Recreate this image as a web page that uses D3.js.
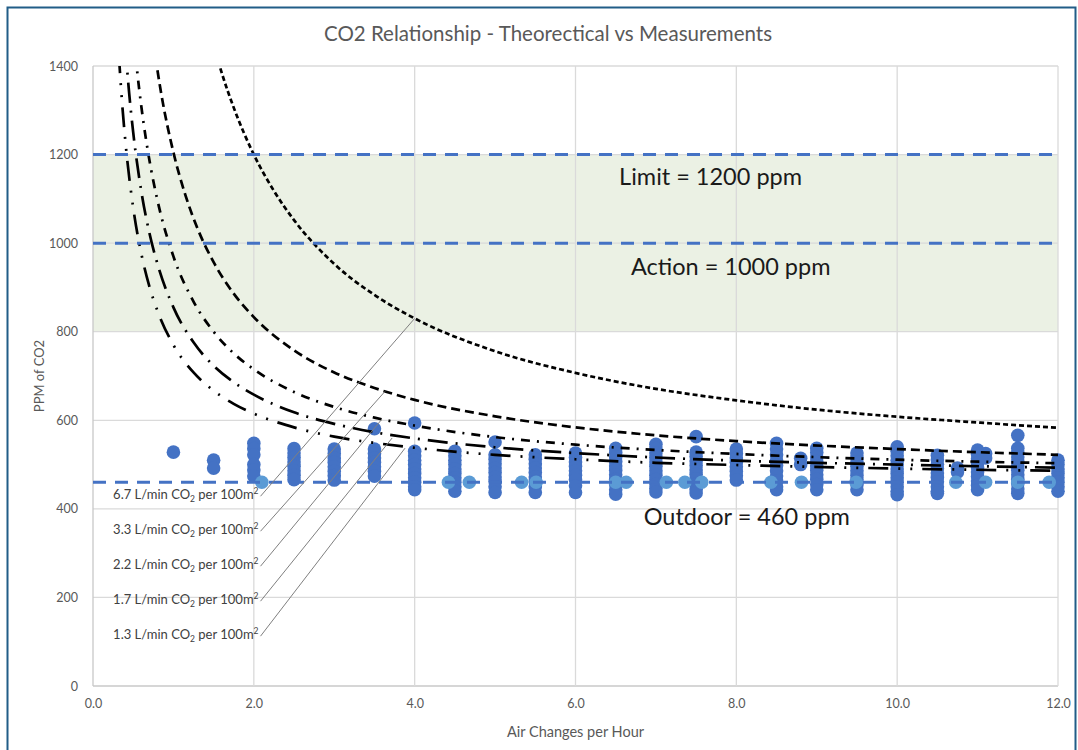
<!DOCTYPE html>
<html><head><meta charset="utf-8">
<script src="https://cdn.jsdelivr.net/npm/d3@7"></script>
<style>body{margin:0;background:#fff;} svg{display:block;}</style>
</head><body>
<svg id="chart" width="1078" height="750"></svg>
<script>
// ---------------- DATA ----------------
const xTicks = [0, 2, 4, 6, 8, 10, 12];
const yTicks = [0, 200, 400, 600, 800, 1000, 1200, 1400];
const actionBand = [800, 1200];
const refLevels = [1200, 1000, 460];
const refLabels = ["Limit = 1200 ppm", "Action = 1000 ppm", "Outdoor = 460 ppm"];

// theoretical curves [ACH, ppm]
const curve67 = [[1.5,1447],[1.6,1385],[1.75,1306],[2,1200],[2.25,1118],[2.5,1052],[3,953],[3.5,883],[4,830],[5,756],[6,707],[7,671],[8,645],[9,624],[10,608],[11,595],[12,583]];
const curve33 = [[0.75,1453],[0.85,1336],[1.0,1205],[1.15,1108],[1.3,1033],[1.5,957],[1.75,886],[2,833],[2.5,758],[3,708],[3.5,673],[4,646],[5,609],[6,584],[7,566],[8,553],[10,535],[12,522]];
const curve22 = [[0.5,1480],[0.55,1387],[0.6,1310],[0.7,1189],[0.8,1098],[1.0,970],[1.25,868],[1.5,800],[1.75,751],[2,715],[2.5,664],[3,630],[3.5,606],[4,588],[5,562],[6,545],[7,533],[8,524],[10,511],[12,503]];
const curve17 = [[0.4,1448],[0.45,1338],[0.5,1250],[0.6,1118],[0.7,1024],[0.8,954],[1.0,855],[1.25,776],[1.5,723],[1.75,686],[2,658],[2.5,618],[3,592],[3.5,573],[4,559],[5,539],[6,526],[7,516],[8,509],[10,500],[12,493]];
const curve13 = [[0.32,1429],[0.36,1321],[0.4,1235],[0.5,1080],[0.6,977],[0.7,903],[0.8,848],[1.0,770],[1.25,708],[1.5,667],[1.75,637],[2,615],[2.5,584],[3,563],[3.5,549],[4,538],[5,522],[6,512],[7,504],[8,499],[10,491],[12,486]];
const curveNames = ["6.7", "3.3", "2.2", "1.7", "1.3"];
const curveDash = ["5,3", "9,5", "9,7,2,7", "20,8,2,8", "20,10,2,10,2,10"];
// label positions (ACH, ppm) and leader line targets on the curves (ACH, ppm)
const labelPos = [[0.25,433],[0.25,354],[0.25,275],[0.25,196],[0.25,117]];
const leaderTargets = [[4.0,830],[3.63,665],[3.59,602],[3.72,560],[3.88,537]];

// measurements: [ACH, [ppm values]]
const measured = [
  [1.0, [528]],
  [1.5, [510, 492]],
  [2.0, [548, 536, 522, 500, 488, 474]],
  [2.5, [536, 526, 516, 506, 496, 486, 476, 466]],
  [3.0, [535, 525, 515, 505, 495, 485, 475, 465]],
  [3.5, [581, 535, 525, 515, 505, 495, 485, 474]],
  [4.0, [594, 530, 520, 510, 500, 490, 480, 470, 460, 450, 443]],
  [4.5, [530, 520, 510, 500, 490, 480, 470, 460, 450, 440]],
  [5.0, [551, 522, 512, 502, 492, 482, 472, 462, 450, 437]],
  [5.5, [522, 512, 502, 492, 482, 472, 462, 450, 437]],
  [6.0, [526, 516, 506, 496, 486, 476, 466, 452, 437]],
  [6.5, [537, 527, 517, 507, 497, 487, 477, 467, 455, 443, 433]],
  [7.0, [546, 536, 526, 516, 506, 496, 486, 476, 466, 456, 446, 438]],
  [7.5, [563, 528, 518, 508, 498, 488, 478, 468, 456, 444, 436]],
  [8.0, [535, 525, 515, 505, 495, 485, 475, 465]],
  [8.5, [548, 535, 522, 510, 498, 486, 474, 462, 450, 443]],
  [8.8, [514, 500]],
  [9.0, [537, 527, 517, 507, 497, 487, 477, 467, 455, 443]],
  [9.5, [526, 516, 506, 496, 486, 476, 466, 455, 443]],
  [10.0, [540, 530, 520, 510, 500, 490, 480, 470, 460, 450, 440, 432]],
  [10.5, [521, 511, 501, 491, 481, 471, 461, 450, 440, 435]],
  [10.75, [492, 483]],
  [11.0, [533, 523, 513, 503, 493, 483, 473, 463, 453, 443]],
  [11.1, [525, 515]],
  [11.5, [566, 537, 527, 517, 507, 497, 487, 477, 467, 457, 445, 435]],
  [12.0, [510, 500, 490, 480, 470, 460, 450, 440]]
];
// outdoor reference measurements (light points)
const outdoorX = [2.1, 4.42, 4.68, 5.33, 5.51, 6.5, 6.63, 7.13, 7.36, 7.57, 8.43, 8.81, 9.49, 10.73, 11.1, 11.5, 11.89];
const outdoorY = [460, 460, 460, 460, 460, 460, 460, 460, 460, 460, 460, 460, 460, 460, 460, 460, 460];

// ---------------- CHART ----------------
const W = 1078, H = 750;
const M = {left: 93, right: 20, top: 66, bottom: 64};
const svg = d3.select("#chart");
const FONT = "Lato, 'Open Sans', sans-serif";

svg.append("rect").attr("x", 0).attr("y", 0).attr("width", W).attr("height", H).attr("fill", "#fff");
svg.append("path").attr("d", `M7.5,${H} L7.5,7.5 L${W-2.5},7.5 L${W-2.5},${H}`)
  .attr("fill", "none").attr("stroke", "#215d87").attr("stroke-width", 2);

const x = d3.scaleLinear().domain([0, 12]).range([M.left, W - M.right]);
const y = d3.scaleLinear().domain([0, 1400]).range([H - M.bottom, M.top]);

svg.append("defs").append("clipPath").attr("id", "plot")
  .append("rect").attr("x", x(0)).attr("y", y(1400)).attr("width", x(12) - x(0)).attr("height", y(0) - y(1400));

// action band
svg.append("rect").attr("x", x(0)).attr("width", x(12) - x(0))
  .attr("y", y(actionBand[1])).attr("height", y(actionBand[0]) - y(actionBand[1]))
  .attr("fill", "#ebf1e4");

// grid
const grid = svg.append("g");
grid.selectAll("line.h").data(yTicks).join("line")
  .attr("x1", x(0)).attr("x2", x(12)).attr("y1", d => y(d)).attr("y2", d => y(d))
  .attr("stroke", d => d === 0 ? "#c8c8c8" : "#dadada").attr("stroke-width", 1.3);
grid.selectAll("line.v").data(xTicks).join("line")
  .attr("y1", y(0)).attr("y2", y(1400)).attr("x1", d => x(d)).attr("x2", d => x(d))
  .attr("stroke", d => d === 0 ? "#c8c8c8" : "#dadada").attr("stroke-width", 1.3);

// axes (labels only)
const yAxis = svg.append("g").attr("transform", `translate(${x(0)},0)`)
  .call(d3.axisLeft(y).tickValues(yTicks).tickSize(0).tickPadding(15).tickFormat(d3.format("d")));
const xAxis = svg.append("g").attr("transform", `translate(0,${y(0)})`)
  .call(d3.axisBottom(x).tickValues(xTicks).tickSize(0).tickPadding(13).tickFormat(d3.format(".1f")));
[xAxis, yAxis].forEach(a => {
  a.select(".domain").remove();
  a.selectAll("text").attr("fill", "#595959").attr("font-family", FONT).attr("font-size", 12.5);
});

// titles
svg.append("text").attr("x", 548).attr("y", 41).attr("text-anchor", "middle")
  .attr("font-family", FONT).attr("font-size", 20.5).attr("fill", "#595959")
  .text("CO2 Relationship - Theorectical vs Measurements");
svg.append("text").attr("x", (x(0) + x(12)) / 2).attr("y", 737).attr("text-anchor", "middle")
  .attr("font-family", FONT).attr("font-size", 14.5).attr("fill", "#595959").text("Air Changes per Hour");
svg.append("text").attr("transform", `translate(44,${(y(0) + y(1400)) / 2}) rotate(-90)`).attr("text-anchor", "middle")
  .attr("font-family", FONT).attr("font-size", 13).attr("fill", "#595959").text("PPM of CO2");

// measured points
const pts = [];
measured.forEach(([ach, vals]) => vals.forEach(v => pts.push([ach, v])));
svg.append("g").selectAll("circle").data(pts).join("circle")
  .attr("cx", d => x(d[0])).attr("cy", d => y(d[1])).attr("r", 6.8)
  .attr("fill", "#4472c4");
svg.append("g").selectAll("circle").data(outdoorX.map((v, i) => [v, outdoorY[i]])).join("circle")
  .attr("cx", d => x(d[0])).attr("cy", d => y(d[1])).attr("r", 6.8)
  .attr("fill", "#5b9bd5");

// theoretical curves
const line = d3.line().x(d => x(d[0])).y(d => y(d[1])).curve(d3.curveMonotoneX);
const curves = [curve67, curve33, curve22, curve17, curve13];
svg.append("g").attr("clip-path", "url(#plot)").selectAll("path").data(curves).join("path")
  .attr("d", line).attr("fill", "none").attr("stroke", "#000")
  .attr("stroke-width", 2.7).attr("stroke-dasharray", (d, i) => curveDash[i]);

// reference lines
svg.append("g").selectAll("line").data(refLevels).join("line")
  .attr("x1", x(0)).attr("x2", x(12)).attr("y1", d => y(d)).attr("y2", d => y(d))
  .attr("stroke", "#4472c4").attr("stroke-width", 3).attr("stroke-dasharray", "13,9");

// reference labels
const refLabelPos = [[7.68, 1144], [7.93, 942], [8.13, 378]];
svg.append("g").selectAll("text").data(refLabels).join("text")
  .attr("x", (d, i) => x(refLabelPos[i][0])).attr("y", (d, i) => y(refLabelPos[i][1]))
  .attr("text-anchor", "middle").attr("dominant-baseline", "middle")
  .attr("font-family", FONT).attr("font-size", 23.5).attr("fill", "#1a1a1a").text(d => d);

// curve labels with leaders
const lg = svg.append("g");
curveNames.forEach((name, i) => {
  const lx = x(labelPos[i][0]), ly = y(labelPos[i][1]);
  const t = lg.append("text").attr("x", lx).attr("y", ly + 4.5)
    .attr("font-family", FONT).attr("font-size", 13).attr("fill", "#404040");
  t.append("tspan").text(name + " L/min CO");
  t.append("tspan").attr("font-size", 8.5).attr("dy", 3).text("2");
  t.append("tspan").attr("dy", -3).text(" per 100m");
  t.append("tspan").attr("font-size", 8.5).attr("dy", -5).text("2");
  const w = t.node().getComputedTextLength();
  lg.append("line").attr("x1", lx + w + 2).attr("y1", ly + 2)
    .attr("x2", x(leaderTargets[i][0])).attr("y2", y(leaderTargets[i][1]))
    .attr("stroke", "#7f7f7f").attr("stroke-width", 1);
});
</script>
</body></html>
